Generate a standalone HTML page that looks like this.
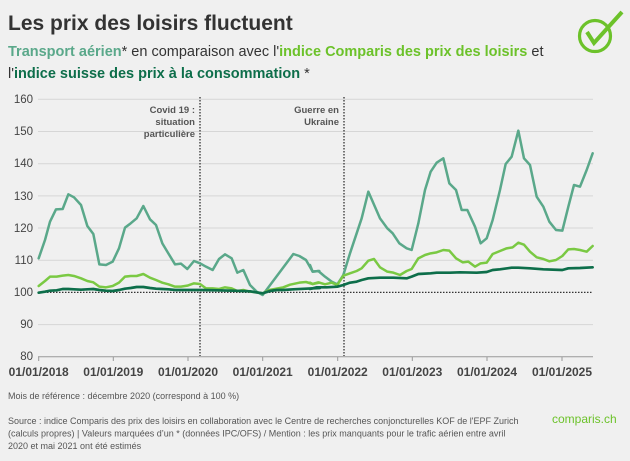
<!DOCTYPE html>
<html><head><meta charset="utf-8"><style>
body{margin:0;background:#f0f0f0;width:630px;height:456px;overflow:hidden;font-family:"Liberation Sans",sans-serif}
</style></head><body>
<svg width="630" height="456" viewBox="0 0 630 456" xmlns="http://www.w3.org/2000/svg" font-family="Liberation Sans, sans-serif">
<rect width="630" height="456" fill="#f0f0f0"/>
<text x="8" y="30" font-size="21" font-weight="bold" fill="#333">Les prix des loisirs fluctuent</text>
<text x="8" y="56" font-size="14.5" fill="#333"><tspan fill="#5aa88a" font-weight="bold">Transport aérien</tspan>* en comparaison avec l'<tspan fill="#6cc22a" font-weight="bold">indice Comparis des prix des loisirs</tspan> et</text>
<text x="8" y="78" font-size="14.5" fill="#333">l'<tspan fill="#0d6e4a" font-weight="bold">indice suisse des prix à la consommation</tspan> *</text>
<circle cx="595" cy="36" r="15.5" fill="none" stroke="#6cc22a" stroke-width="3.2"/>
<polyline points="587,32 594,43 622,12" fill="none" stroke="#6cc22a" stroke-width="4" stroke-linejoin="miter"/>
<g stroke="#d6d6d6" stroke-width="1">
<line x1="38" x2="593" y1="99.3" y2="99.3"/><line x1="38" x2="593" y1="131.5" y2="131.5"/><line x1="38" x2="593" y1="163.7" y2="163.7"/><line x1="38" x2="593" y1="195.9" y2="195.9"/><line x1="38" x2="593" y1="228" y2="228"/><line x1="38" x2="593" y1="260.2" y2="260.2"/><line x1="38" x2="593" y1="324.6" y2="324.6"/>
</g>
<line x1="38" x2="593" y1="356.7" y2="356.7" stroke="#999"/>
<g stroke="#999"><line x1="38.7" x2="38.7" y1="356.7" y2="361"/><line x1="113.3" x2="113.3" y1="356.7" y2="361"/><line x1="188" x2="188" y1="356.7" y2="361"/><line x1="262.7" x2="262.7" y1="356.7" y2="361"/><line x1="337.7" x2="337.7" y1="356.7" y2="361"/><line x1="412.3" x2="412.3" y1="356.7" y2="361"/><line x1="487" x2="487" y1="356.7" y2="361"/><line x1="562" x2="562" y1="356.7" y2="361"/></g>
<g font-size="11.5" fill="#444" text-anchor="end"><text x="33" y="103">160</text><text x="33" y="135">150</text><text x="33" y="167">140</text><text x="33" y="200">130</text><text x="33" y="232">120</text><text x="33" y="264">110</text><text x="33" y="296">100</text><text x="33" y="328">90</text><text x="33" y="360">80</text></g>
<g font-size="12" font-weight="bold" fill="#444" text-anchor="middle"><text x="38.7" y="376">01/01/2018</text><text x="113.3" y="376">01/01/2019</text><text x="188" y="376">01/01/2020</text><text x="262.7" y="376">01/01/2021</text><text x="337.7" y="376">01/01/2022</text><text x="412.3" y="376">01/01/2023</text><text x="487" y="376">01/01/2024</text><text x="562" y="376">01/01/2025</text></g>
<line x1="38" x2="593" y1="292.4" y2="292.4" stroke="#333" stroke-width="1.3" stroke-dasharray="1.5,1.5"/>
<line x1="200" x2="200" y1="97" y2="356" stroke="#333" stroke-width="1.3" stroke-dasharray="1.5,1.5"/>
<line x1="344" x2="344" y1="97" y2="356" stroke="#333" stroke-width="1.3" stroke-dasharray="1.5,1.5"/>
<g font-size="9.5" font-weight="bold" fill="#555" text-anchor="end"><text x="195" y="113">Covid 19 :</text><text x="195" y="125">situation</text><text x="195" y="137">particulière</text><text x="339" y="113">Guerre en</text><text x="339" y="125">Ukraine</text></g>
<g transform="translate(0,90) scale(0.33333)" fill="none" stroke-linejoin="round" stroke-linecap="round">
<polyline stroke="#5aa88a" stroke-width="7.5" points="116,505 135,450 150,395 168,358 188,357 205,313 222,322 243,345 262,408 280,432 298,523 318,525 338,515 357,475 375,413 392,400 410,385 430,348 450,388 468,405 487,460 505,490 525,523 543,521 562,537 582,513 600,520 618,530 638,540 657,507 675,493 695,505 712,548 730,540 750,585 770,605 788,615 880,492 898,498 918,510 938,545 958,543"/>
<polyline stroke="#7ac943" stroke-width="7.5" points="116,588 135,573 150,560 170,560 188,557 205,555 222,558 243,565 262,573 280,577 298,590 318,592 338,588 357,578 375,560 392,558 410,558 430,552 450,563 468,570 487,578 505,583 525,590 543,590 562,587 582,580 600,582 618,595 638,595 657,597 675,592 695,595 712,603 730,600 750,605 770,607 788,610 808,600 830,596 850,592 870,584 898,578 918,576 938,582 958,578"/>
<polyline stroke="#0d6e4a" stroke-width="8" points="116,608 135,605 150,602 170,601 188,597 205,597 222,598 243,599 262,598 280,597 298,600 318,602 338,603 357,600 375,596 392,594 410,591 430,591 450,594 468,596 487,597 505,598 525,600 562,600 600,600 650,601 700,602 750,604 788,610 810,603 830,600 850,600 880,598 918,596 960,594"/>
</g>
<g transform="translate(310,90) scale(0.33333)" fill="none" stroke-linejoin="round" stroke-linecap="round">
<polyline stroke="#5aa88a" stroke-width="7.5" points="0,525 8,545 25,543 45,560 65,575 82,583 100,555 120,490 155,385 175,305 210,385 232,415 248,430 268,460 290,475 305,480 325,400 345,300 362,245 380,218 400,205 418,280 438,300 455,360 472,360 495,410 512,460 530,445 548,390 570,300 587,222 605,200 625,122 642,205 660,225 680,320 700,350 718,395 738,420 757,422 775,350 792,285 810,290 830,240 848,190"/>
<polyline stroke="#7ac943" stroke-width="7.5" points="0,578 8,582 25,577 45,583 65,578 82,585 100,557 120,550 140,543 155,535 175,512 192,507 210,532 232,545 250,548 270,555 290,543 305,537 325,505 345,495 362,490 380,487 400,480 418,482 438,505 458,517 475,515 495,530 512,520 530,518 548,492 570,483 590,475 608,472 625,458 642,464 660,485 680,502 700,507 718,514 738,510 757,498 775,478 792,477 810,480 830,485 848,468"/>
<polyline stroke="#0d6e4a" stroke-width="8" points="0,597 20,592 50,592 82,590 100,585 120,578 140,575 155,570 175,565 210,563 250,563 290,565 305,560 325,552 362,550 380,548 420,548 450,547 500,548 530,546 548,540 570,538 605,533 625,533 660,535 700,538 757,540 775,535 810,534 848,532"/>
</g>
<g font-size="9" fill="#555">
<text x="8" y="399">Mois de référence : décembre 2020 (correspond à 100 %)</text>
<text x="8" y="424">Source : indice Comparis des prix des loisirs en collaboration avec le Centre de recherches conjoncturelles KOF de l'EPF Zurich</text>
<text x="8" y="436.5">(calculs propres) | Valeurs marquées d’un * (données IPC/OFS) / Mention : les prix manquants pour le trafic aérien entre avril</text>
<text x="8" y="449">2020 et mai 2021 ont été estimés</text>
</g>
<text x="552" y="423" font-size="12" fill="#6cc22a">comparis.ch</text>
</svg>
</body></html>
